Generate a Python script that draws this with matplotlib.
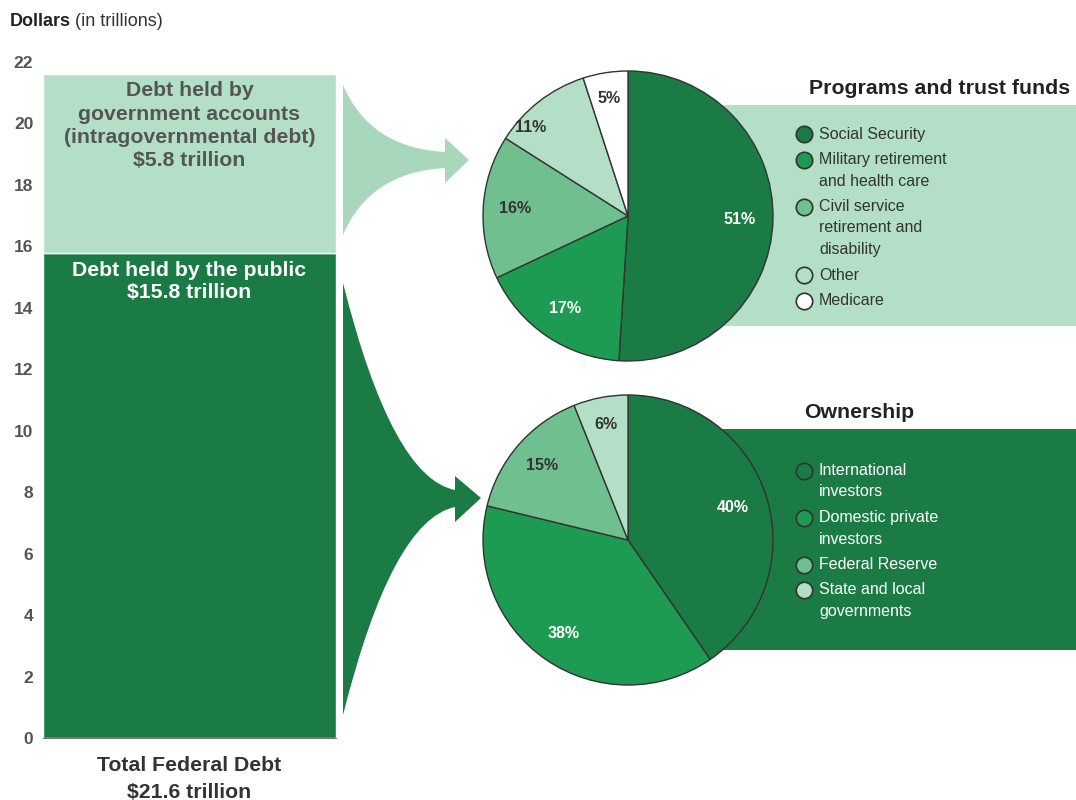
import matplotlib
matplotlib.use("Agg")
import matplotlib.pyplot as plt
import numpy as np
from matplotlib.path import Path
from matplotlib.patches import PathPatch, Rectangle

plt.rcParams['font.family'] = ['Liberation Sans', 'DejaVu Sans']

# Дані
public_debt = 15.8
intragov_debt = 5.8
y_ticks = list(range(0, 23, 2))

programs = ["Social Security", "Military retirement\nand health care",
            "Civil service\nretirement and\ndisability", "Other", "Medicare"]
program_shares = [51, 17, 16, 11, 5]

owners = ["International\ninvestors", "Domestic private\ninvestors",
          "Federal Reserve", "State and local\ngovernments"]
owner_shares = [40, 38, 15, 6]

# Кольори
DARK = '#1b7b45'
MED = '#1e9b53'
LMED = '#70bf8f'
PALE = '#b3dfc6'
ARROW_LIGHT = '#a8d7bb'

W, H = 1076, 800
fig = plt.figure(figsize=(W / 100, H / 100), dpi=100)


def px_axes(x0, y0, x1, y1, **kw):
    return fig.add_axes([x0 / W, 1 - y1 / H, (x1 - x0) / W, (y1 - y0) / H], **kw)


# Фоновий шар у піксельних координатах
bg = px_axes(0, 0, W, H)
bg.set_xlim(0, W)
bg.set_ylim(H, 0)
bg.axis('off')
bg.set_zorder(0)

bg.add_patch(Rectangle((628, 105), W - 628, 221, color=PALE, lw=0))
bg.add_patch(Rectangle((628, 429), W - 628, 221, color=DARK, lw=0))


def arrow_path(x0, top, bot, xs, ys_top, ys_bot, head_top, head_bot, tip, ctrl_top, ctrl_bot):
    verts = [(x0, top), ctrl_top, (xs, ys_top), (xs, head_top), tip,
             (xs, head_bot), (xs, ys_bot), ctrl_bot, (x0, bot), (x0, top)]
    codes = [Path.MOVETO, Path.CURVE3, Path.CURVE3, Path.LINETO, Path.LINETO,
             Path.LINETO, Path.LINETO, Path.CURVE3, Path.CURVE3, Path.CLOSEPOLY]
    return Path(verts, codes)


bg.add_patch(PathPatch(arrow_path(343, 85, 235, 445, 152, 168, 138, 183, (469, 160),
                                  (370, 148), (370, 172)), color=ARROW_LIGHT, lw=0))
bg.add_patch(PathPatch(arrow_path(343, 283, 715, 455, 490, 507, 476, 522, (481, 498),
                                  (392, 478), (392, 520)), color=DARK, lw=0))

# Підписи осі
t1 = bg.text(10, 22, "Dollars", fontsize=13, fontweight='bold', color='#222', va='center')
bg.annotate("(in trillions)", xy=(1, 0.5), xycoords=t1, xytext=(3, 0),
            textcoords='offset points', fontsize=13, color='#333', va='center')
bg.text(189, 779, "Total Federal Debt\n$21.6 trillion", fontsize=15.3, fontweight='bold',
        color='#333', ha='center', va='center', linespacing=1.48)

# Стовпчик
ax = px_axes(43, 62, 336, 738)
ax.bar(0, public_debt, width=1, color=DARK, edgecolor='white', linewidth=1)
ax.bar(0, intragov_debt, width=1, bottom=public_debt, color=PALE, edgecolor='white', linewidth=1)
ax.set_xlim(-0.5, 0.5)
ax.set_ylim(0, 22)
ax.set_yticks(y_ticks)
ax.set_yticklabels([str(t) for t in y_ticks], fontweight='bold', color='#555', fontsize=12.5)
ax.tick_params(axis='y', length=0, pad=7)
ax.set_xticks([])
for s in ['top', 'right', 'left']:
    ax.spines[s].set_visible(False)
ax.spines['bottom'].set_color('#777')
ax.patch.set_alpha(0)

ax.text(0, 21.6 - 0.23, "Debt held by\ngovernment accounts\n(intragovernmental debt)\n$5.8 trillion",
        ha='center', va='top', fontsize=15.3, fontweight='bold', color='#555', linespacing=1.29)
ax.text(0, public_debt - 0.27, "Debt held by the public\n$15.8 trillion",
        ha='center', va='top', fontsize=15.3, fontweight='bold', color='white', linespacing=1.24)


# Кругові діаграми
def draw_pie(cx, cy, values, colors, label_colors, label_dist, label_turn):
    r = 145
    pad = 4
    pax = px_axes(cx - r - pad, cy - r - pad, cx + r + pad, cy + r + pad)
    pax.set_zorder(2)
    pax.pie(values, colors=colors, startangle=90, counterclock=False,
            wedgeprops=dict(edgecolor='#333', linewidth=1))
    lim = 1 + pad / r
    pax.set_xlim(-lim, lim)
    pax.set_ylim(-lim, lim)
    total = sum(values)
    cum = 0
    for v, lc, d, turn in zip(values, label_colors, label_dist, label_turn):
        ang = np.deg2rad(90 - 360 * (cum + v / 2) / total + turn)
        cum += v
        pax.text(d * np.cos(ang), d * np.sin(ang), f"{v}%", ha='center', va='center',
                 fontsize=11.5, fontweight='bold', color=lc)


draw_pie(628, 216, program_shares, [DARK, MED, LMED, PALE, 'white'],
         ['white', 'white', '#333', '#333', '#333'], [0.77, 0.77, 0.78, 0.91, 0.82],
         [0, 0, 0, 10, 0])
draw_pie(628, 540, owner_shares, [DARK, MED, LMED, PALE],
         ['white', 'white', '#333', '#333'], [0.76, 0.78, 0.78, 0.81],
         [0, 0, 0, 0])

# Заголовки і легенди
bg.text(1070, 89, "Programs and trust funds", fontsize=15.3, fontweight='bold',
        color='#222', ha='right', va='center')
bg.text(859, 413, "Ownership", fontsize=15.3, fontweight='bold', color='#222',
        ha='center', va='center')


def draw_legend(y0, labels, colors, text_color):
    y = y0
    for lab, c in zip(labels, colors):
        bg.scatter([804], [y], s=140, color=c, edgecolor='#333', linewidth=1.2, zorder=3)
        lines = lab.split('\n')
        for i, line in enumerate(lines):
            bg.text(819, y + i * 21.5, line, fontsize=11.5, color=text_color, va='center')
        y += (len(lines) - 1) * 21.5 + 25.5


draw_legend(134, programs, [DARK, MED, LMED, PALE, 'white'], '#333')
draw_legend(470.5, owners, [DARK, MED, LMED, PALE], 'white')

fig.savefig("out.png", dpi=100)
